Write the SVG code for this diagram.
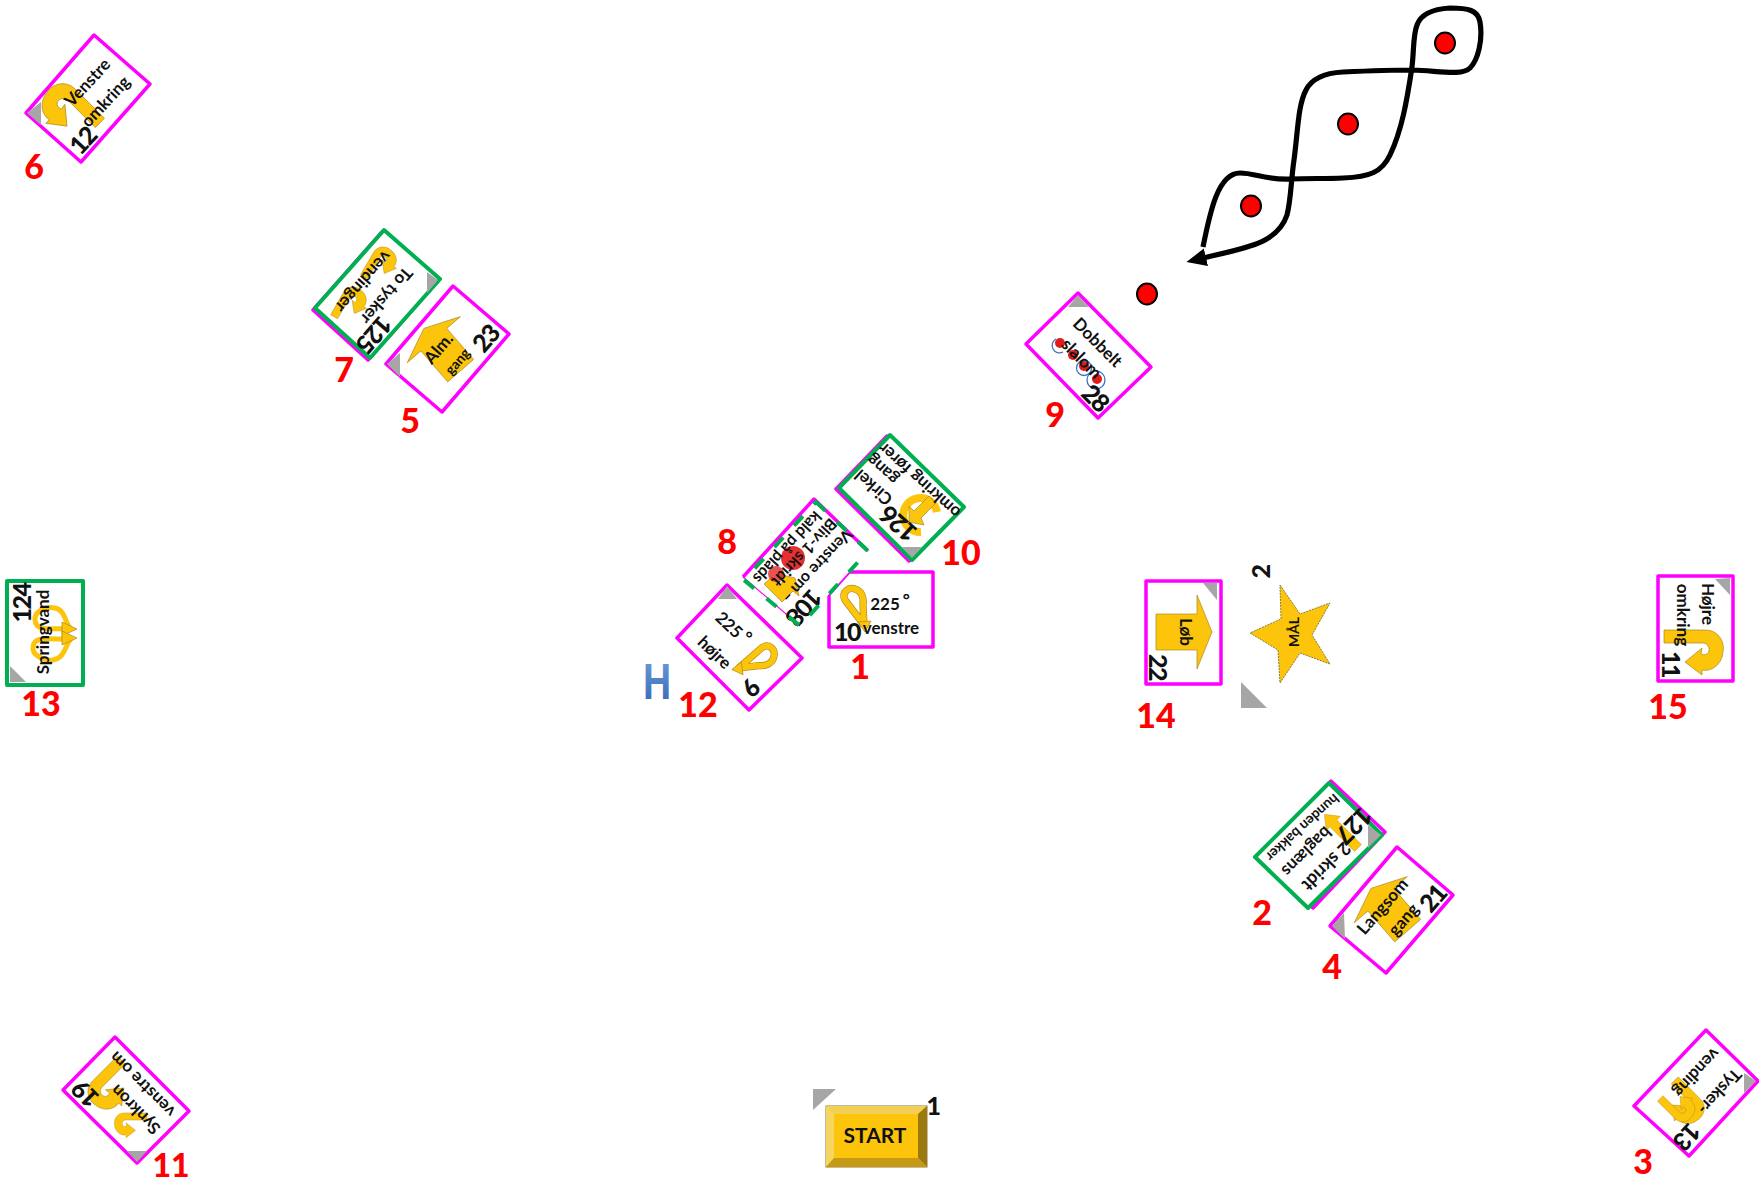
<svg xmlns="http://www.w3.org/2000/svg" width="1759" height="1181" viewBox="0 0 1759 1181">
<style>
text{font-family:Lato,"Open Sans","Liberation Sans",sans-serif;text-anchor:middle;dominant-baseline:central;fill:#111}
.m{fill:#fff;stroke:#f0f;stroke-width:3.5;stroke-linejoin:round}
.mo{fill:none;stroke:#f0f;stroke-width:3.5;stroke-linejoin:round}
.g{fill:#fff;stroke:#00b050;stroke-width:4;stroke-linejoin:round}
.cn{fill:#a6a6a6}
.t{font-size:17px;font-weight:700}
.s{font-size:14px;font-weight:700}
.n{font-size:25px;font-weight:900;letter-spacing:-1.5px}
.r{font-size:34px;font-weight:900;fill:#f00}
.y{fill:#fdc40c;stroke:#a88a20;stroke-width:.7}
.d{fill:#f00;stroke:#000;stroke-width:2}
.b{fill:none;stroke:#3a72c8;stroke-width:1.3}
</style>
<defs>
<path id="u" class="y" d="M-31,-22 L10,-22 C25,-22 30,-8 28,0 C27,12 17,20 7,18 L7,23 L-10,10 L7,-4 L6,2 C13,5 16,-2 13,-6 C12,-9 8,-9 8,-9 L-31,-9Z"/>
<path id="a" class="y" d="M-30,-18 L11,-18 L11,-37 L26,0 L11,37 L11,18 L-30,18Z"/>
<g id="l"><path d="M9,15 L-10,-10 C-14,-18 -6,-23 0,-21 C7,-19 9,-12 8,-5 L9,14" fill="none" stroke="#a88a20" stroke-width="7.2"/><path d="M9,15 L-10,-10 C-14,-18 -6,-23 0,-21 C7,-19 9,-12 8,-5 L9,14" fill="none" stroke="#fdc40c" stroke-width="6"/><path class="y" d="M3,12 L16,11 L10,22Z"/></g>
<marker id="h" markerUnits="userSpaceOnUse" markerWidth="22" markerHeight="20" refX="3" refY="9" orient="auto"><path d="M0,0 L20,9 L0,18Z" fill="#000"/></marker>
<linearGradient id="hg" x1="0" y1="0" x2="0" y2="1"><stop offset="0" stop-color="#6f9fdc"/><stop offset="1" stop-color="#2f64ad"/></linearGradient>
</defs>
<rect width="1759" height="1181" fill="#fff"/>

<g id="connectors">
<path d="M1203,247 C1210,212 1218,173 1240,173 C1255,173 1265,180 1290,179 C1310,178 1325,179 1343,178 C1370,177 1382,172 1390,155 C1402,130 1407,100 1412,67 C1414,50 1413,35 1417,25 C1421,14 1432,9 1450,8 C1468,8 1478,10 1480,22 C1483,40 1478,60 1470,68 C1462,76 1440,71 1413,70 C1390,70 1365,71 1343,72 C1325,73 1312,78 1306,90 C1298,105 1298,130 1294,160 C1291,180 1291,200 1287,215 C1282,230 1270,240 1250,246 C1235,251 1220,254 1203,258" fill="none" stroke="#000" stroke-width="5.2" marker-end="url(#h)"/>
</g>

<g id="cones">
<ellipse class="d" cx="1147" cy="294" rx="10" ry="10.5"/>
<ellipse class="d" cx="1251" cy="206" rx="10" ry="10.5"/>
<ellipse class="d" cx="1348" cy="124" rx="10" ry="10.5"/>
<ellipse class="d" cx="1445" cy="43" rx="10" ry="10.5"/>
</g>

<g id="card-6">
<polygon class="m" points="94,35 150,84 81,162 26,113"/>
<polygon class="cn" points="27,113 41,102 41,125"/>
<use href="#u" transform="translate(67,112) rotate(-135) scale(1,-1)"/>
<text class="t" transform="translate(87,82) rotate(-47)">Venstre</text>
<text class="t" transform="translate(105,101) rotate(-47)">omkring</text>
<text class="n" transform="translate(82,140) rotate(-47)">12</text>
<text class="r" x="34" y="165">6</text>
</g>

<g id="card-7">
<polygon class="m" points="382,232 438,281 368,360 313,310"/>
<polygon class="g" points="384,230 440,279 370,358 315,308"/>
<polygon class="cn" points="438,280 427,272 427,293"/>
<use href="#u" transform="translate(382,265) rotate(-60) scale(.62)"/>
<use href="#u" transform="translate(352,305) rotate(-60) scale(.62)"/>
<text class="t" transform="translate(387,296) rotate(131)">To tysker</text>
<text class="t" transform="translate(364,282) rotate(131)">vendinger</text>
<text class="n" transform="translate(375,335) rotate(131)">125</text>
<text class="r" x="344" y="368">7</text>
</g>

<g id="card-5">
<polygon class="m" points="453,286 509,334 442,412 386,364"/>
<polygon class="cn" points="387,364 400,353 400,377"/>
<use href="#a" transform="translate(441,348) rotate(-131) scale(1,.95)"/>
<text class="t" transform="translate(438,348) rotate(-49)">Alm.</text>
<text class="s" transform="translate(457,361) rotate(-49)">gang</text>
<text class="n" transform="translate(485,338) rotate(-49)">23</text>
<text class="r" x="410" y="419">5</text>
</g>

<g id="card-9">
<polygon class="m" points="1078,293 1151,367 1098,418 1026,344"/>
<polygon class="cn" points="1078,295 1068,307 1089,307"/>
<circle cx="1060" cy="343" r="5" fill="#e01b1b"/><circle cx="1073" cy="355" r="5" fill="#e01b1b"/><circle cx="1084" cy="366" r="5" fill="#e01b1b"/><circle cx="1097" cy="379" r="5" fill="#e01b1b"/>
<path class="b" d="M1056,339 A7,7 0 0 0 1063,352"/>
<circle class="b" cx="1084" cy="368" r="7.5"/><circle class="b" cx="1096" cy="380" r="9"/>
<text class="t" transform="translate(1098,342) rotate(45)">Dobbelt</text>
<text class="t" transform="translate(1082,358) rotate(45)">slalom</text>
<text class="n" transform="translate(1096,397) rotate(45)">28</text>
<text class="r" x="1055" y="413">9</text>
</g>

<g id="card-10">
<polygon class="m" points="887,436 961,508 909,561 836,489"/>
<polygon class="g" points="890,435 964,507 912,560 839,488"/>
<polygon class="cn" points="912,558 902,547 922,547"/>
<path fill="none" stroke="#fdc40c" stroke-width="8" d="M921,532 A17,17 0 1 1 937,512"/>
<path class="y" d="M929,496 L936,503 L921,518 L924,525 L909,522 L909,506 L914,511Z"/>
<text class="t" transform="translate(919,481) rotate(222)">omkring fører</text>
<text class="t" transform="translate(882,470) rotate(222)">gang</text>
<text class="t" transform="translate(873,488) rotate(222)">Cirkel</text>
<text class="n" transform="translate(898,525) rotate(222)">126</text>
<text class="r" x="961" y="551">10</text>
</g>

<g id="card-1">
<polygon class="m" points="849,572 933,572 933,647 829,647 829,594"/>
<use href="#l" transform="translate(855,610)"/>
<text class="t" x="890" y="603">225<tspan dx="3" dy="-4">°</tspan></text>
<text class="t" x="891" y="627">venstre</text>
<text class="n" x="847" y="631">10</text>
<text class="r" x="860" y="665">1</text>
</g>

<g id="card-8">
<polygon points="814,499 868,551 800,626 743,577" fill="#fff"/>
<path class="mo" d="M868,551 L814,499 L743,577"/>
<path d="M743,577 L800,626" fill="none" stroke="#f0f" stroke-width="1.2"/>
<path class="y" d="M764,584 L782,602 L793,591 L799,596 L795,578 L778,574 L784,580 L779,586 L772,577Z"/>
<circle cx="793" cy="558" r="12" fill="#e01b1b" opacity=".9"/>
<circle cx="776" cy="574" r="8" fill="#e01b1b" opacity=".75"/>
<text class="t" transform="translate(818,567) rotate(133)" style="font-size:16px">Venstre om –</text>
<text class="t" transform="translate(805,553) rotate(133)" style="font-size:16px">Bliv-1 skridt</text>
<text class="t" transform="translate(788,548) rotate(133)" style="font-size:16px">kald på plads</text>
<text class="n" transform="translate(805,608) rotate(133)">108</text>
<path d="M816,502 L868,551 L800,626 L744,580 Z" fill="none" stroke="#00b050" stroke-width="4" stroke-dasharray="13 16"/>
<text class="r" x="727" y="540">8</text>
</g>

<g id="card-12">
<polygon class="m" points="727,585 802,658 749,710 677,638"/>
<polygon class="cn" points="727,586 718,599 737,599"/>
<use href="#l" transform="translate(753,658) rotate(86)"/>
<text class="t" transform="translate(733,628) rotate(44)">225<tspan dx="3" dy="-4">°</tspan></text>
<text class="t" transform="translate(715,652) rotate(44)">højre</text>
<text class="n" transform="translate(752,688) rotate(135)">9</text>
<text class="r" x="698" y="703">12</text>
</g>

<g id="h-mark">
<text transform="translate(657,682) scale(.78,1)" style="font-family:'Liberation Sans',sans-serif;font-size:50px;font-weight:700;fill:url(#hg)">H</text>
</g>

<g id="card-13">
<rect x="8" y="580" width="75" height="105" fill="none" stroke="#f0f" stroke-width="2" opacity=".5"/>
<rect class="g" x="7" y="581" width="76" height="104"/>
<polygon class="cn" points="10,682 10,666 26,682"/>
<path d="M72,630 C65,625 66,610 55,608 C45,606 34,612 35,620 C36,632 50,628 72,629" fill="none" stroke="#fdc40c" stroke-width="5"/>
<path d="M72,638 C65,643 66,658 53,660 C43,661 32,655 33,647 C34,635 50,640 72,639" fill="none" stroke="#fdc40c" stroke-width="5"/>
<path class="y" d="M62,622 L77,629 L62,636Z"/><path class="y" d="M62,631 L77,638 L62,645Z"/>
<text class="t" transform="translate(42,632) rotate(-90)">Springvand</text>
<text class="n" transform="translate(21,603) rotate(-90)">124</text>
<text class="r" x="41" y="702">13</text>
</g>

<g id="card-14">
<rect class="m" x="1146" y="581" width="75" height="103"/>
<polygon class="cn" points="1217,583 1203,583 1217,600"/>
<use href="#a" transform="translate(1186,632)"/>
<text class="t" transform="translate(1186,632) rotate(90)">Løb</text>
<text class="n" transform="translate(1159,667) rotate(90)">22</text>
<text class="r" x="1156" y="714">14</text>
</g>

<g id="goal">
<text class="n" transform="translate(1260,572) rotate(-90)">2</text>
<polygon points="1280,585 1300,614 1330,603 1312,635 1330,664 1300,653 1280,683 1278,650 1250,633 1281,619" fill="#fdc40c" stroke="#8a7a3a" stroke-width="1" stroke-dasharray="2 1"/>
<text class="s" transform="translate(1293,632) rotate(-90)">MÅL</text>
<polygon class="cn" points="1241,682 1241,708 1267,708"/>
</g>

<g id="card-15">
<rect class="m" x="1658" y="576" width="75" height="105"/>
<polygon class="cn" points="1730,578 1715,579 1730,595"/>
<use href="#u" transform="translate(1695,652)"/>
<text class="t" transform="translate(1708,604) rotate(90)">Højre</text>
<text class="t" transform="translate(1683,615) rotate(90)">omkring</text>
<text class="n" transform="translate(1672,664) rotate(90)">11</text>
<text class="r" x="1668" y="705">15</text>
</g>

<g id="card-2">
<polygon class="m" points="1331,781 1385,832 1313,908 1258,857"/>
<polygon class="g" points="1329,783 1382,835 1308,908 1255,857"/>
<polygon class="cn" points="1381,835 1368,825 1368,848"/>
<use href="#a" transform="translate(1340,830) rotate(-135) scale(.85,.27)"/>
<text class="s" transform="translate(1303,828) rotate(138)">hunden bakker</text>
<text class="t" transform="translate(1307,852) rotate(135)">baglæns</text>
<text class="t" transform="translate(1327,867) rotate(135)" style="font-size:18px">2 skridt</text>
<text class="n" transform="translate(1355,826) rotate(135)">127</text>
<text class="r" x="1262" y="911">2</text>
</g>

<g id="card-4">
<polygon class="m" points="1397,847 1453,895 1386,973 1330,926"/>
<polygon class="cn" points="1332,926 1344,913 1345,939"/>
<use href="#a" transform="translate(1388,908) rotate(-131) scale(1,.95)"/>
<text class="t" transform="translate(1382,906) rotate(-49)">Langsom</text>
<text class="t" transform="translate(1403,919) rotate(-49)">gang</text>
<text class="n" transform="translate(1432,898) rotate(-49)">21</text>
<text class="r" x="1332" y="965">4</text>
</g>

<g id="card-3">
<polygon class="m" points="1706,1030 1758,1081 1689,1156 1634,1106"/>
<polygon class="cn" points="1756,1081 1744,1073 1744,1093"/>
<use href="#u" transform="translate(1683,1105) rotate(45) scale(.75)"/>
<use href="#u" transform="translate(1680,1105) rotate(45) scale(.6,-.6)"/>
<text class="t" transform="translate(1720,1092) rotate(133)">Tysker-</text>
<text class="t" transform="translate(1697,1073) rotate(133)">vending</text>
<text class="n" transform="translate(1688,1137) rotate(133)">13</text>
<text class="r" x="1643" y="1160">3</text>
</g>

<g id="card-11">
<polygon class="m" points="115,1037 189,1111 137,1163 63,1090"/>
<polygon class="cn" points="137,1162 127,1151 147,1151"/>
<use href="#u" transform="translate(112,1088) rotate(135) scale(.85,-.85)"/>
<use href="#u" transform="translate(130,1125) rotate(180) scale(.55,-.55)"/>
<text class="t" transform="translate(135,1110) rotate(225)">Synkron</text>
<text class="t" transform="translate(142,1085) rotate(225)">venstre om</text>
<text class="n" transform="translate(85,1095) rotate(225)">19</text>
<text class="r" x="171" y="1164" style="font-size:32px">11</text>
</g>

<g id="start">
<polygon class="cn" points="813,1089 836,1089 813,1110"/>
<rect x="826" y="1106" width="101" height="61" fill="#fdc40c" stroke="#8a7a3a"/>
<polygon points="826,1106 927,1106 918,1114 834,1114" fill="#f2cf55"/>
<polygon points="826,1106 834,1114 834,1158 826,1167" fill="#f6d660"/>
<polygon points="927,1106 918,1114 918,1158 927,1167" fill="#9a7a10"/>
<polygon points="826,1167 834,1158 918,1158 927,1167" fill="#c69a14"/>
<text x="875" y="1134" style="font-size:21px;font-weight:700">START</text>
<text class="n" x="933" y="1105">1</text>
</g>
</svg>
